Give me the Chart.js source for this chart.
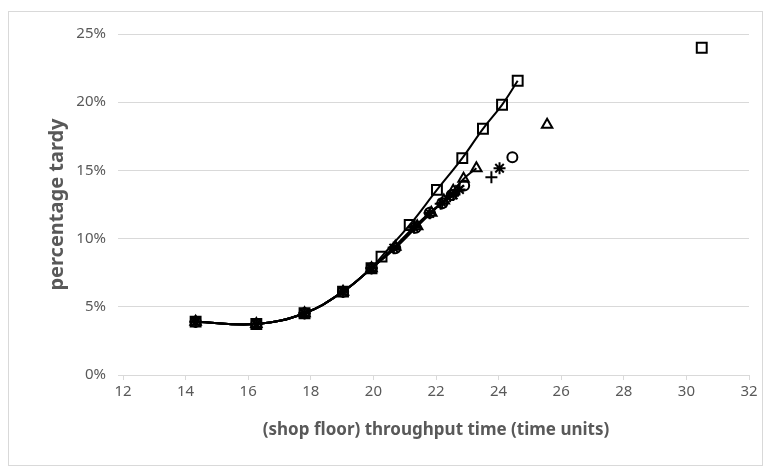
<!DOCTYPE html>
<html>
<head>
<meta charset="utf-8">
<script src="https://cdn.jsdelivr.net/npm/chart.js@4.4.1/dist/chart.umd.min.js"></script>
<style>
  body { margin: 0; background: #fff; }
  #box { position: absolute; left: 8px; top: 11px; width: 753px; height: 453px; border: 1px solid #d9d9d9; }
</style>
</head>
<body>
<div id="box"><canvas id="chart" width="753" height="453"></canvas></div>
<script>
    // x = throughput time, y = percentage tardy (in %)
    var xTicks = [12, 32, 2];
    var yTicks = [0, 25, 5];

    var sqX = [14.32, 16.26, 17.80, 19.03, 19.94, 20.26, 21.16, 22.03, 22.84, 23.50, 24.11, 24.61];
    var sqY = [3.91, 3.74, 4.53, 6.11, 7.83, 8.68, 11.00, 13.57, 15.90, 18.05, 19.81, 21.57];
    var sqOutX = [30.49];
    var sqOutY = [23.99];

    var triX = [14.32, 16.26, 17.80, 19.03, 19.94, 20.70, 21.40, 21.85, 22.25, 22.55, 22.88, 23.29];
    var triY = [3.91, 3.74, 4.53, 6.11, 7.83, 9.40, 10.90, 11.90, 12.80, 13.50, 14.38, 15.16];
    var triOutX = [25.55];
    var triOutY = [18.34];

    var cirX = [14.32, 16.26, 17.80, 19.03, 19.94, 20.70, 21.35, 21.80, 22.20, 22.50, 22.90];
    var cirY = [3.91, 3.74, 4.53, 6.11, 7.83, 9.30, 10.80, 11.90, 12.60, 13.20, 13.90];
    var cirOutX = [24.44];
    var cirOutY = [15.97];

    var astX = [14.32, 16.26, 17.80, 19.03, 19.94, 20.65, 21.30, 21.80, 22.20, 22.55, 22.75];
    var astY = [3.91, 3.74, 4.53, 6.11, 7.83, 9.30, 10.80, 11.85, 12.60, 13.20, 13.60];
    var astOutX = [24.03];
    var astOutY = [15.16];

    var plsX = [14.32, 16.26, 17.80, 19.03, 19.94, 20.65, 21.30, 21.80, 22.15, 22.45, 22.70];
    var plsY = [3.91, 3.74, 4.53, 6.11, 7.83, 9.35, 10.85, 11.90, 12.55, 13.10, 13.50];
    var plsOutX = [23.77];
    var plsOutY = [14.50];

    function pts(xs, ys){
        var arr = [];
        for(var i=0;i<xs.length;i++){
            arr.push({x: xs[i], y: ys[i]});
        }
        return arr;
    }

    function series(xs, ys, style, radius, line){
        return {
            data: pts(xs, ys),
            showLine: line,
            tension: 0.4,
            borderColor: '#000',
            borderWidth: 2,
            pointStyle: style,
            pointRadius: radius,
            pointHoverRadius: radius,
            pointBackgroundColor: 'rgba(255,255,255,0)',
            pointBorderColor: '#000',
            pointBorderWidth: 2
        };
    }

    var grey = '#595959';
    var font = '"Noto Sans", sans-serif';

    new Chart(document.getElementById('chart'), {
        type: 'scatter',
        data: {
            datasets: [
                series(sqX, sqY, 'rect', 7, true),
                series(sqOutX, sqOutY, 'rect', 7, false),
                series(triX, triY, 'triangle', 6, true),
                series(triOutX, triOutY, 'triangle', 6, false),
                series(cirX, cirY, 'circle', 5, true),
                series(cirOutX, cirOutY, 'circle', 5, false),
                series(astX, astY, 'star', 6, true),
                series(astOutX, astOutY, 'star', 6, false),
                series(plsX, plsY, 'cross', 6, true),
                series(plsOutX, plsOutY, 'cross', 6, false)
            ]
        },
        options: {
            responsive: false,
            animation: false,
            layout: { padding: { left: 32, right: 13, top: 22, bottom: 21 } },
            plugins: { legend: { display: false }, tooltip: { enabled: false } },
            scales: {
                x: {
                    type: 'linear',
                    min: xTicks[0], max: xTicks[1],
                    ticks: { stepSize: xTicks[2], color: grey, font: { family: font, size: 15 }, padding: 3 },
                    grid: { drawOnChartArea: false, drawTicks: true, tickLength: 5, color: '#d9d9d9' },
                    border: { color: '#d9d9d9' },
                    title: { display: true, text: '(shop floor) throughput time (time units)', color: grey,
                             font: { family: font, size: 17, weight: 'bold' } },
                    afterFit: function(s){ s.height = 69; }
                },
                y: {
                    min: yTicks[0], max: yTicks[1],
                    ticks: { stepSize: yTicks[2], color: grey, font: { family: font, size: 15 }, padding: 12,
                             callback: function(v){ return v + '%'; } },
                    grid: { drawTicks: true, tickLength: 5, color: '#d9d9d9' },
                    border: { display: false },
                    title: { display: true, text: 'percentage tardy', color: grey,
                             font: { family: font, size: 20, weight: 'bold' } },
                    afterFit: function(s){ s.width = 82; }
                }
            }
        }
    });
</script>
</body>
</html>
